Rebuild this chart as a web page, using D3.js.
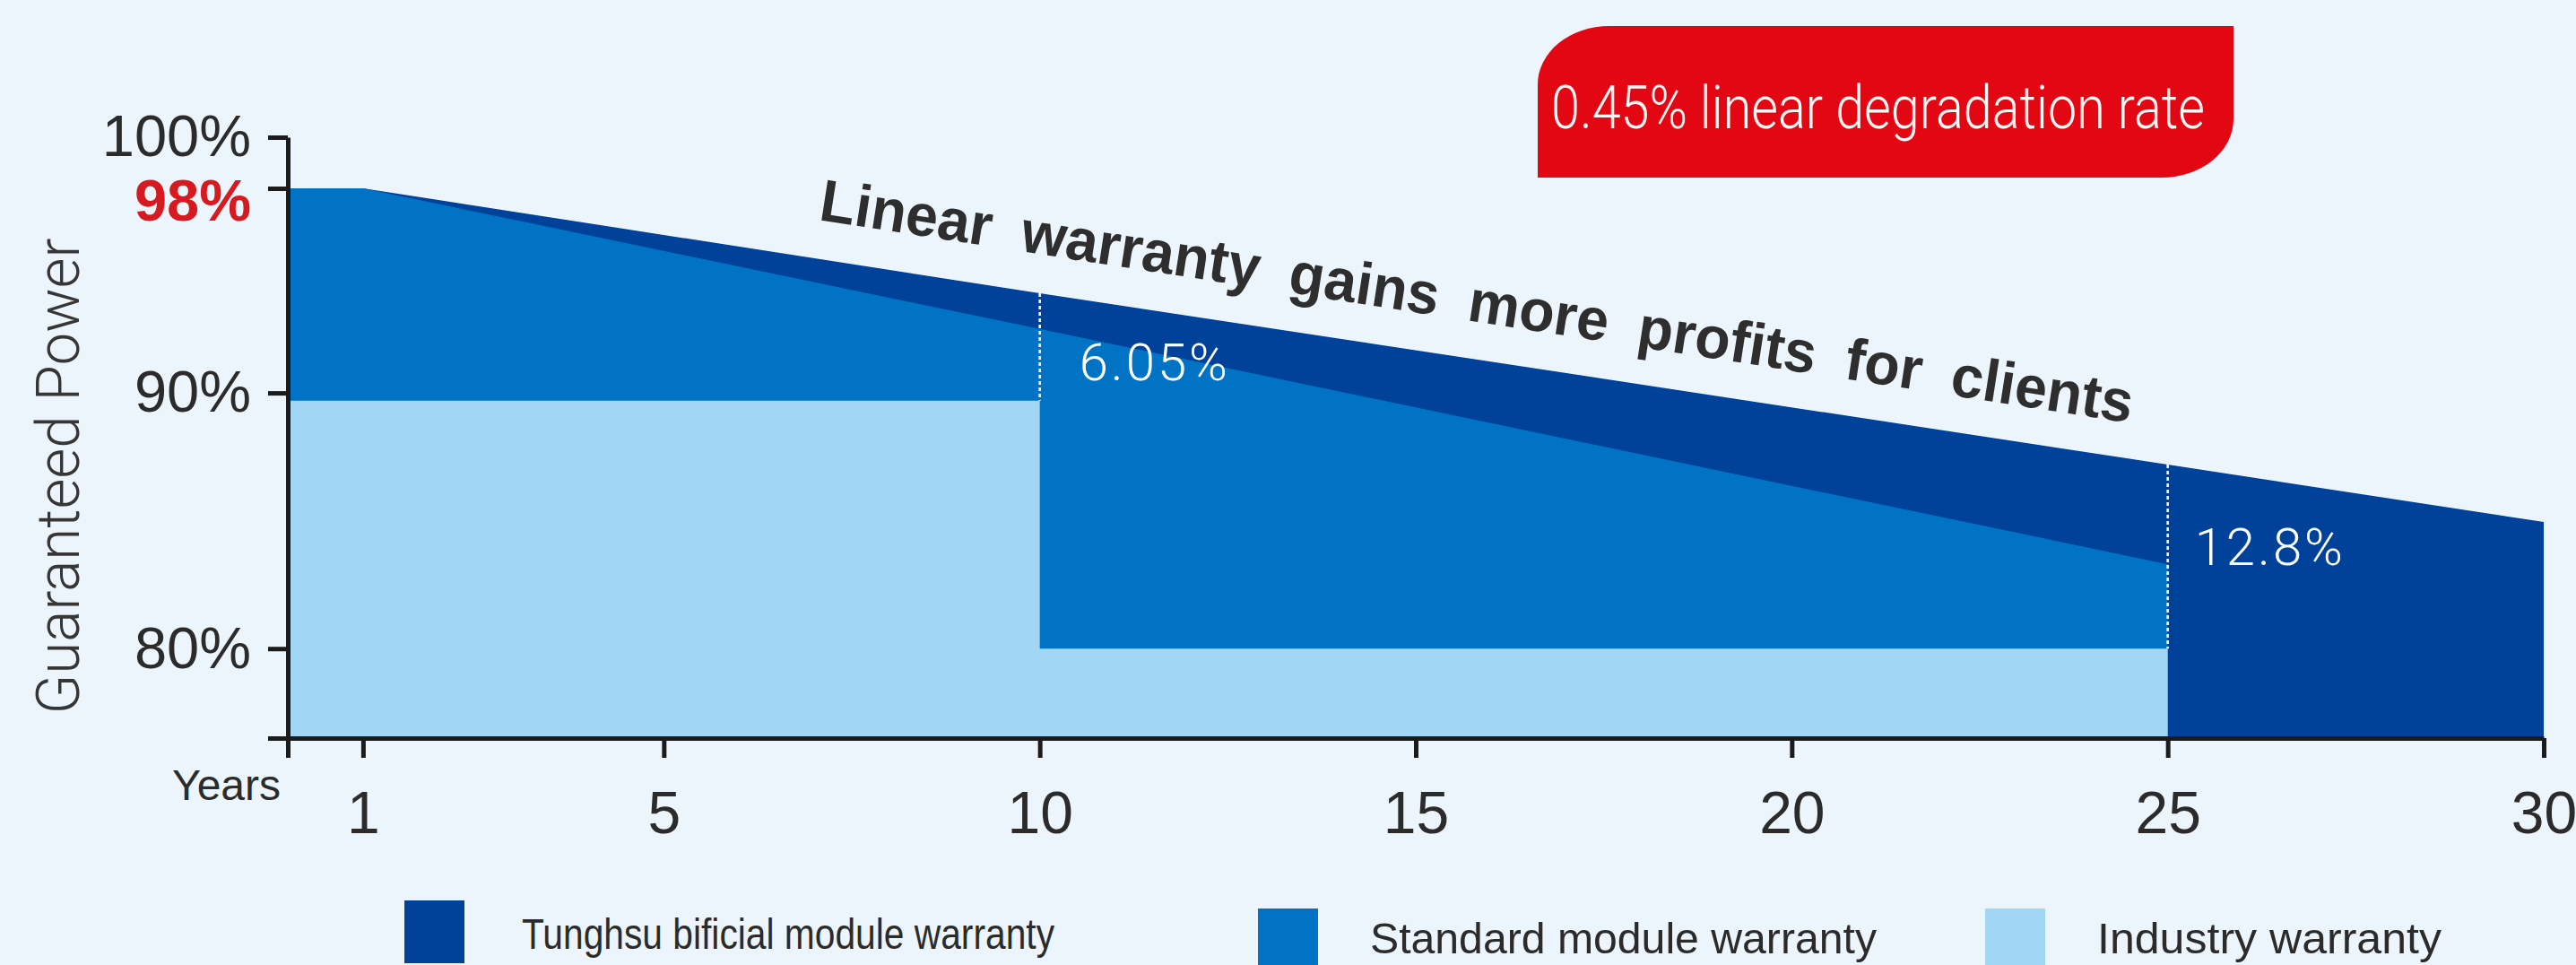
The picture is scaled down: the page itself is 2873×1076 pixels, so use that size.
<!DOCTYPE html>
<html>
<head>
<meta charset="utf-8">
<script src="https://cdn.jsdelivr.net/npm/d3@7/dist/d3.min.js"></script>
<style>
    html, body { margin: 0; padding: 0; background: #edf5fc; }
    svg { display: block; }
</style>
</head>
<body>
<div id="chart"></div>
<script>
// values (percent of nominal power per year)
var bifacialYears = [0, 1, 10, 25, 30];
var bifacialPower = [98, 98, 93.9, 87.2, 84.95];
var standardYears = [0, 1, 10, 25];
var standardPower = [98, 98, 92.5, 83.3];
var industryYears = [0, 10, 25];
var industryPower = [89.7, 80, 80];

var xTicks = [0, 1, 5, 10, 15, 20, 25, 30];
var yTicks = [76.5, 80, 90, 98, 100];
var yTickLabels = { 80: '80%', 90: '90%', 98: '98%', 100: '100%' };

var gapYears = [10, 25];
var gapLabels = ['6.05%', '12.8%'];

var legendLabels = ['Tunghsu bificial module warranty', 'Standard module warranty', 'Industry warranty'];
var colors = ['#00419a', '#0073c4', '#a1d7f4'];

var width = 2873, height = 1076;

var svg = d3.select('#chart').append('svg')
    .attr('width', width)
    .attr('height', height);

svg.append('rect')
    .attr('width', width)
    .attr('height', height)
    .attr('fill', '#edf5fc');

var x = d3.scaleLinear().domain([0, 30]).range([321, 2837]);
var y = d3.scaleLinear().domain([76.5, 100]).range([823, 153]);

function zip(xs, ys) {
    return xs.map(function (v, i) { return [v, ys[i]]; });
}

var area = d3.area()
    .x(function (d) { return x(d[0]); })
    .y0(y(76.5))
    .y1(function (d) { return y(d[1]); });

var layers = [
    { points: zip(bifacialYears, bifacialPower), color: colors[0], curve: d3.curveLinear },
    { points: zip(standardYears, standardPower), color: colors[1], curve: d3.curveLinear },
    { points: zip(industryYears, industryPower), color: colors[2], curve: d3.curveStepAfter }
];

svg.append('g').selectAll('path.layer')
    .data(layers)
    .enter().append('path')
    .attr('class', 'layer')
    .attr('fill', function (d) { return d.color; })
    .attr('d', function (d) { return area.curve(d.curve)(d.points); });

// dotted white gap markers
var gaps = gapYears.map(function (yr, i) {
    var top = bifacialPower[bifacialYears.indexOf(yr)];
    var k = industryYears.indexOf(yr);
    var bottom = industryPower[k - 1];
    return { year: yr, top: top, bottom: bottom, label: gapLabels[i] };
});

var gapG = svg.append('g');
gapG.selectAll('line')
    .data(gaps)
    .enter().append('line')
    .attr('x1', function (d) { return x(d.year); })
    .attr('x2', function (d) { return x(d.year); })
    .attr('y1', function (d) { return y(d.top); })
    .attr('y2', function (d) { return y(d.bottom); })
    .attr('stroke', '#ffffff')
    .attr('stroke-width', 2.5)
    .attr('stroke-dasharray', '4,3');

gapG.selectAll('text')
    .data(gaps)
    .enter().append('text')
    .attr('x', function (d, i) { return x(d.year) + (i === 0 ? 44 : 30); })
    .attr('y', function (d, i) { return y(d.top) + (i === 0 ? 97 : 112); })
    .attr('fill', '#ffffff')
    .style('font-family', 'Roboto, "Liberation Sans", sans-serif')
    .style('font-weight', 300)
    .style('font-size', '58px')
    .style('letter-spacing', '3px')
    .text(function (d) { return d.label; });

// axes
var yAxis = d3.axisLeft(y)
    .tickValues(yTicks)
    .tickSize(22)
    .tickSizeOuter(0)
    .tickPadding(19)
    .tickFormat(function (d) { return yTickLabels[d] || ''; });

var yAxisG = svg.append('g')
    .attr('transform', 'translate(' + x(0) + ',0)')
    .call(yAxis);

var xAxis = d3.axisBottom(x)
    .tickValues(xTicks)
    .tickSize(22)
    .tickSizeOuter(0)
    .tickPadding(37)
    .tickFormat(function (d) { return d === 0 ? '' : d; });

var xAxisG = svg.append('g')
    .attr('transform', 'translate(0,' + y(76.5) + ')')
    .call(xAxis);

[xAxisG, yAxisG].forEach(function (g) {
    g.select('.domain').attr('stroke', '#1b1b1b').attr('stroke-width', 5);
    g.selectAll('.tick line').attr('stroke', '#1b1b1b').attr('stroke-width', 5);
    g.selectAll('.tick text')
        .attr('fill', '#2b2b2b')
        .style('font-family', '"Liberation Sans", Arial, sans-serif');
});
yAxisG.selectAll('.tick text').style('font-size', '65px');
xAxisG.selectAll('.tick text').style('font-size', '66px');

yAxisG.selectAll('.tick text')
    .filter(function (d) { return d === 98; })
    .attr('fill', '#d71920')
    .attr('dy', '0.55em')
    .style('font-weight', 'bold');

svg.append('text')
    .attr('x', 313)
    .attr('y', 892)
    .attr('text-anchor', 'end')
    .attr('fill', '#2b2b2b')
    .style('font-family', '"Liberation Sans", Arial, sans-serif')
    .style('font-size', '48px')
    .text('Years');

svg.append('text')
    .attr('transform', 'translate(88,531) rotate(-90)')
    .attr('text-anchor', 'middle')
    .attr('textLength', 531)
    .attr('lengthAdjust', 'spacingAndGlyphs')
    .attr('fill', '#363636')
    .style('font-family', 'Roboto, "Liberation Sans", sans-serif')
    .style('font-weight', 300)
    .style('font-size', '66px')
    .text('Guaranteed Power');

// slanted headline along the top edge
svg.append('text')
    .attr('transform', 'translate(912,245) rotate(8.8)')
    .attr('textLength', 1481)
    .attr('lengthAdjust', 'spacingAndGlyphs')
    .attr('fill', '#2e2e2e')
    .style('font-family', '"Liberation Sans", Arial, sans-serif')
    .style('font-weight', 'bold')
    .style('font-size', '66px')
    .style('word-spacing', '16px')
    .text('Linear warranty gains more profits for clients');

// red badge
var bx0 = 1715, by0 = 29, bx1 = 2491, by1 = 198, rx = 80, ry = 65;
svg.append('path')
    .attr('fill', '#e30613')
    .attr('d', 'M' + bx0 + ',' + by1 +
        'L' + bx0 + ',' + (by0 + ry) +
        'A' + rx + ',' + ry + ' 0 0 1 ' + (bx0 + rx) + ',' + by0 +
        'L' + bx1 + ',' + by0 +
        'L' + bx1 + ',' + (by1 - ry) +
        'A' + rx + ',' + ry + ' 0 0 1 ' + (bx1 - rx) + ',' + by1 + 'Z');

svg.append('text')
    .attr('x', 1730)
    .attr('y', 143)
    .attr('textLength', 729)
    .attr('lengthAdjust', 'spacingAndGlyphs')
    .attr('fill', '#fff4f2')
    .style('font-family', 'Roboto, "Liberation Sans", sans-serif')
    .style('font-weight', 300)
    .style('font-size', '66px')
    .text('0.45% linear degradation rate');

// legend
var legendX = [451, 1403, 2214];
var legendTop = [1004, 1013, 1013];
var legendTextX = [582, 1528, 2339];
var legendBase = [1058, 1063, 1063];
var legendLen = [594, 565, 384];

var legend = svg.append('g').selectAll('g.legend-item')
    .data(legendLabels)
    .enter().append('g')
    .attr('class', 'legend-item');

legend.append('rect')
    .attr('x', function (d, i) { return legendX[i]; })
    .attr('y', function (d, i) { return legendTop[i]; })
    .attr('width', 67)
    .attr('height', 70)
    .attr('fill', function (d, i) { return colors[i]; });

legend.append('text')
    .attr('x', function (d, i) { return legendTextX[i]; })
    .attr('y', function (d, i) { return legendBase[i]; })
    .attr('textLength', function (d, i) { return legendLen[i]; })
    .attr('lengthAdjust', 'spacingAndGlyphs')
    .attr('fill', '#2b2b2b')
    .style('font-family', '"Liberation Sans", Arial, sans-serif')
    .style('font-size', '48px')
    .text(function (d) { return d; });
</script>
</body>
</html>
